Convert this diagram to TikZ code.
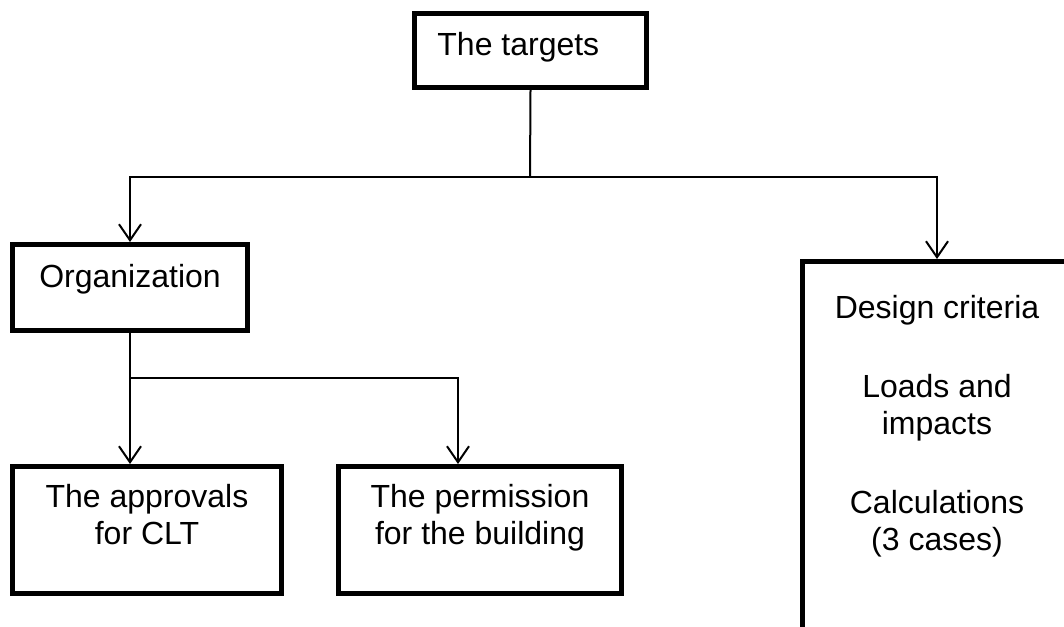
\documentclass[tikz,border=0pt]{standalone}
\usepackage{fontspec}
\setmainfont{Liberation Sans}
\usetikzlibrary{positioning,arrows.meta}

\begin{document}
\begin{tikzpicture}[
  x=0.5pt,y=-0.5pt,
  every node/.style={font=\fontsize{16pt}{18.5pt}\selectfont},
  box/.style={draw,line width=2.5pt,inner sep=0pt},
  txt/.style={inner sep=0pt,align=center},
  link/.style={line width=1pt},
  arrow/.style={-{Straight Barb[length=8pt,width=11pt]},line width=1pt}
]
  \useasboundingbox (0,0) rectangle (1064,626);
  \clip (0,0) rectangle (1064,626);
  % boxes
  \node[box,minimum width=116pt,minimum height=37pt] (targets) at (530.5,50.5) {};
  \node[box,minimum width=117.5pt,minimum height=43pt] (org) at (130,287.5) {};
  \node[box,minimum width=134.5pt,minimum height=63.5pt] (appr) at (147,530) {};
  \node[box,minimum width=141.5pt,minimum height=63.5pt] (perm) at (480,530) {};
  \node[box,minimum width=134.5pt,minimum height=219.25pt] (design) at (937,480.75) {};
  % texts
  \node[txt,below right=10.35pt and 12.5pt of targets.north west] (targets-txt) {The targets};
  \node[txt,below=10.85pt of org.north] (org-txt) {Organization};
  \node[txt,below=9.85pt of appr.north] (appr-txt) {The approvals\\for CLT};
  \node[txt,below=10.2pt of perm.north] (perm-txt) {The permission\\for the building};
  \node[txt,below=17.85pt of design.north] (design-txt)
    {Design criteria\\[21pt]Loads and\\impacts\\[21pt]Calculations\\(3 cases)};
  % connectors
  \coordinate (split) at (530,177);
  \coordinate (fork) at (130,378);
  \draw[link] (targets.south) -- (split);
  \draw[arrow] (split) -| (org.north);
  \draw[arrow] (split) -| (design.north);
  \draw[arrow] (org.south) -- (org.south |- appr.north);
  \draw[arrow] (fork) -| ([xshift=-11pt]perm.north);
\end{tikzpicture}
\end{document}
